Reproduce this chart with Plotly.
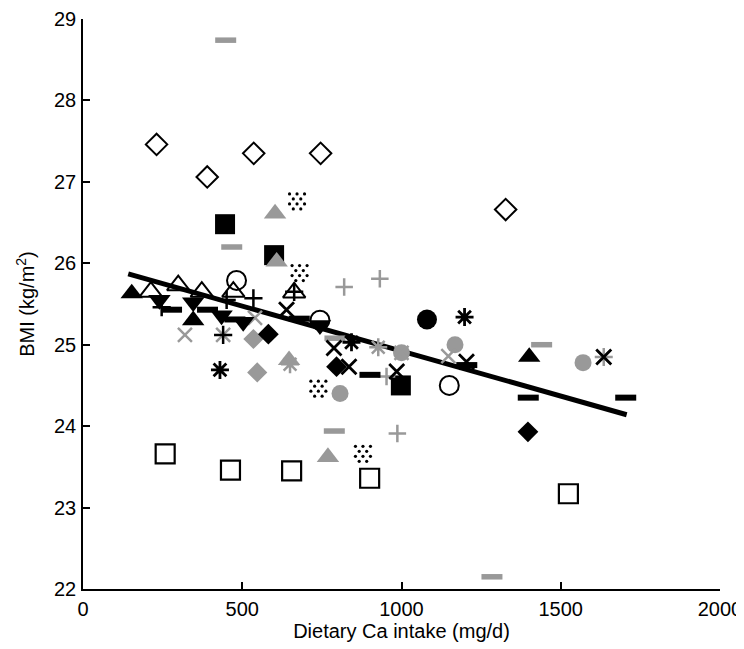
import plotly.graph_objects as go

# ---------------- data ----------------
open_diamond_x = [231, 390, 536, 746, 1327]
open_diamond_y = [27.46, 27.06, 27.35, 27.35, 26.66]

open_square_x = [258, 463, 655, 900, 1524]
open_square_y = [23.66, 23.46, 23.45, 23.36, 23.17]

black_square_x = [446, 600, 998]
black_square_y = [26.48, 26.10, 24.50]

gray_triangle_x = [603, 608, 647, 769]
gray_triangle_y = [26.61, 26.02, 24.81, 23.62]

black_triangle_x = [153, 346, 1401]
black_triangle_y = [25.63, 25.30, 24.85]

open_triangle_x = [213, 299, 373, 472, 663]
open_triangle_y = [25.65, 25.73, 25.65, 25.65, 25.64]

open_circle_x = [482, 744, 1150]
open_circle_y = [25.79, 25.30, 24.50]

black_circle_x = [1080]
black_circle_y = [25.31]

gray_circle_x = [1000, 1168, 807, 1570]
gray_circle_y = [24.90, 25.00, 24.40, 24.78]

black_down_x = [240, 346, 435, 503, 744]
black_down_y = [25.55, 25.52, 25.36, 25.28, 25.24]

black_plus_x = [247, 451, 535, 663, 440]
black_plus_y = [25.46, 25.55, 25.57, 25.65, 25.12]

black_dash_x = [278, 391, 477, 679, 901, 1205, 1398, 1704]
black_dash_y = [25.43, 25.43, 25.31, 25.32, 24.63, 24.75, 24.35, 24.35]

gray_dash_x = [448, 467, 1440, 789, 1284, 791]
gray_dash_y = [28.74, 26.20, 25.00, 23.94, 22.15, 25.08]

black_diamond_x = [582, 796, 1397]
black_diamond_y = [25.13, 24.73, 23.93]

gray_diamond_x = [535, 547]
gray_diamond_y = [25.07, 24.66]

black_x_x = [639, 788, 835, 985, 1204, 1635]
black_x_y = [25.43, 24.96, 24.73, 24.67, 24.79, 24.85]

gray_x_x = [540, 320, 440, 1000, 1147]
gray_x_y = [25.33, 25.12, 25.12, 24.90, 24.86]

black_ast_x = [430, 843, 1198]
black_ast_y = [24.69, 25.03, 25.34]

gray_ast_x = [927, 1635, 650]
gray_ast_y = [24.97, 24.85, 24.76]

gray_plus_x = [820, 932, 953, 987]
gray_plus_y = [25.71, 25.81, 24.61, 23.91]

dotted_x = [672, 680, 739, 879]
dotted_y = [26.76, 25.88, 24.46, 23.66]

fit_x = [142, 1707]
fit_y = [25.87, 24.14]

x_ticks = [0, 500, 1000, 1500, 2000]
y_ticks = [22, 23, 24, 25, 26, 27, 28, 29]

# ---------------- layout constants ----------------
# the page body has an 8px margin, so the figure is sized to fit inside it
W, H = 736, 641
ML, MR, MT, MB = 75, 24, 11, 60
XR = [0, 2000]
YR = [22, 29]
BLACK = "#000000"
GRAY = "#999999"
FONT = "Liberation Sans, Arial, Helvetica, sans-serif"
FS = 20

fig = go.Figure()

# regression line
fig.add_trace(go.Scatter(x=fit_x, y=fit_y, mode="lines",
                         line=dict(color=BLACK, width=5), hoverinfo="skip"))


def add(xs, ys, symbol, color, size, lw=0):
    fig.add_trace(go.Scatter(
        x=xs, y=ys, mode="markers",
        marker=dict(symbol=symbol, color=color, size=size,
                    line=dict(color=color, width=lw)),
        hoverinfo="skip"))


add(open_diamond_x, open_diamond_y, "diamond-open", BLACK, 16.5, 2)
add(open_square_x, open_square_y, "square-open", BLACK, 19, 2.2)
add(black_square_x, black_square_y, "square", BLACK, 20)
add(gray_triangle_x, gray_triangle_y, "triangle-up", GRAY, 19.5)
add(gray_diamond_x, gray_diamond_y, "diamond", GRAY, 15.5)
add(gray_circle_x, gray_circle_y, "circle", GRAY, 17)
add(gray_x_x, gray_x_y, "x-thin-open", GRAY, 14, 2.5)
add(gray_ast_x, gray_ast_y, "asterisk-open", GRAY, 15, 2.5)
add(gray_plus_x, gray_plus_y, "cross-thin-open", GRAY, 12.5, 2.5)
add(gray_dash_x, gray_dash_y, "line-ew-open", GRAY, 15, 5.5)
add(black_triangle_x, black_triangle_y, "triangle-up", BLACK, 19.5)
add(black_down_x, black_down_y, "triangle-down", BLACK, 19.5)
add(open_triangle_x, open_triangle_y, "triangle-up-open", BLACK, 19.5, 2)
add(open_circle_x, open_circle_y, "circle-open", BLACK, 19, 2)
add(black_circle_x, black_circle_y, "circle", BLACK, 20)
add(black_diamond_x, black_diamond_y, "diamond", BLACK, 16)
add(black_plus_x, black_plus_y, "cross-thin-open", BLACK, 13, 2.5)
add(black_x_x, black_x_y, "x-thin-open", BLACK, 15, 2.8)
add(black_ast_x, black_ast_y, "asterisk-open", BLACK, 15, 2.8)
add(black_dash_x, black_dash_y, "line-ew-open", BLACK, 15, 6)

# dotted squares: a staggered grid of small dots around each data point
px_x = (XR[1] - XR[0]) / (W - ML - MR)
px_y = (YR[1] - YR[0]) / (H - MT - MB)
dot_dx, dot_dy = [], []
for i, oy in enumerate([-7.5, -2.5, 2.5, 7.5]):
    cols = [-7.5, 0, 7.5] if i % 2 == 0 else [-3.75, 3.75]
    for ox in cols:
        dot_dx.append(ox)
        dot_dy.append(oy)
dots_x, dots_y = [], []
for cx, cy in zip(dotted_x, dotted_y):
    for ox, oy in zip(dot_dx, dot_dy):
        dots_x.append(cx + ox * px_x)
        dots_y.append(cy - oy * px_y)
fig.add_trace(go.Scatter(x=dots_x, y=dots_y, mode="markers",
                         marker=dict(symbol="circle", color=BLACK, size=3.2,
                                     line=dict(width=0)),
                         hoverinfo="skip"))

axis_common = dict(
    showgrid=False, zeroline=False, showline=True, linecolor=BLACK,
    linewidth=1.5, ticks="inside", ticklen=7, tickwidth=1.5,
    tickcolor=BLACK, mirror=False,
    tickfont=dict(family=FONT, size=FS, color=BLACK),
)

fig.update_layout(
    width=W, height=H,
    margin=dict(l=ML, r=MR, t=MT, b=MB, autoexpand=False),
    paper_bgcolor="white", plot_bgcolor="white",
    showlegend=False,
    font=dict(family=FONT, size=FS, color=BLACK),
    xaxis=dict(range=XR, tickvals=x_ticks, ticktext=[str(v) for v in x_ticks],
               title=dict(text="Dietary Ca intake (mg/d)",
                          font=dict(family=FONT, size=FS, color=BLACK),
                          standoff=4),
               ticklabelstandoff=1,
               automargin=False, **axis_common),
    yaxis=dict(range=YR, tickvals=y_ticks, ticktext=[str(v) for v in y_ticks],
               title=dict(text="BMI (kg/m<sup>2</sup>)",
                          font=dict(family=FONT, size=FS, color=BLACK),
                          standoff=14),
               ticklabelstandoff=1,
               automargin=False, **axis_common),
)

fig.write_html("out.html")
